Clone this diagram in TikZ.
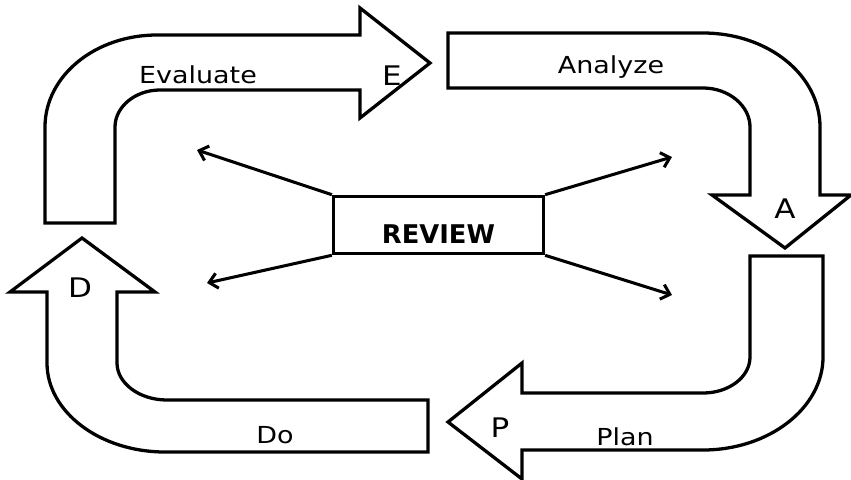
\documentclass[tikz,border=0pt]{standalone}
\usepackage{fontspec}
\setmainfont{DejaVu Sans}[FakeStretch=1.15]
\newfontfamily\reviewfont{DejaVu Sans}
\usetikzlibrary{arrows.meta}

\begin{document}
\begin{tikzpicture}[x=0.03cm , y=-0.03cm ,
  blockarrow/.style = {draw , line width=2.8pt , line join=miter , fill=white} ,
  lbl/.style = {anchor=base , inner sep=0pt , font=\fontsize{20}{24}\selectfont} ,
  letter/.style = {anchor=base , inner sep=0pt , font=\fontsize{23}{27}\selectfont} ,
  spoke/.style = {line width=2.6pt , -{Straight Barb[length=7pt , width=13pt , line width=2.6pt]}}]

\useasboundingbox (0,0) rectangle (851,479) ;

% the four bent arrows of the cycle
\draw[blockarrow] (45,223) -- (45,127) .. controls (45,76) and (95,35) .. (157,35) -- (360,35) -- (360,8) -- (430,63) -- (360,118) -- (360,90) -- (160,90) .. controls (135,90) and (115,107) .. (115,127) -- (115,223) -- cycle ;
\draw[blockarrow] (448,33) -- (703,33) .. controls (768,33) and (820,75) .. (820,127) -- (820,195) -- (851,195) -- (785,248) -- (712,195) -- (750,195) -- (750,127) .. controls (750,106) and (729,88) .. (703,88) -- (448,88) -- cycle ;
\draw[blockarrow] (750,256) -- (823,256) -- (823,357) .. controls (823,408) and (769,450) .. (703,450) -- (522,450) -- (522,479) -- (448,422) -- (522,363) -- (522,393) -- (703,393) .. controls (729,393) and (750,377) .. (750,357) -- cycle ;
\draw[blockarrow] (428,400) -- (428,452) -- (165,452) .. controls (100,452) and (47,412) .. (47,363) -- (47,292) -- (10,292) -- (82,238) -- (155,292) -- (117,292) -- (117,363) .. controls (117,383) and (139,400) .. (167,400) -- cycle ;

\node[lbl] (evaluate) at (198,83) {Evaluate} ;
\node[letter] (e) at (392,85) {E} ;
\node[lbl] (analyze) at (611,74) {Analyze} ;
\node[letter] (a) at (785,218) {A} ;
\node[lbl] (plan) at (625,445) {Plan} ;
\node[letter] (p) at (500,437) {P} ;
\node[lbl] (do) at (275,443) {Do} ;
\node[letter] (d) at (80,297) {D} ;

% review box in the middle
\node[draw , line width=2.8pt , minimum width=6.3cm , minimum height=1.72cm , text height=31pt , text depth=0pt , inner sep=0pt , font=\reviewfont\fontsize{22}{26}\selectfont\bfseries] (review) at (438.5,225) {REVIEW} ;

\coordinate (nw) at (197,150) ;
\coordinate (ne) at (672,157) ;
\coordinate (sw) at (207,283) ;
\coordinate (se) at (672,295) ;

\draw[spoke] (review.north west) -- (nw) ;
\draw[spoke] (review.north east) -- (ne) ;
\draw[spoke] (review.south west) -- (sw) ;
\draw[spoke] (review.south east) -- (se) ;

\end{tikzpicture}
\end{document}
